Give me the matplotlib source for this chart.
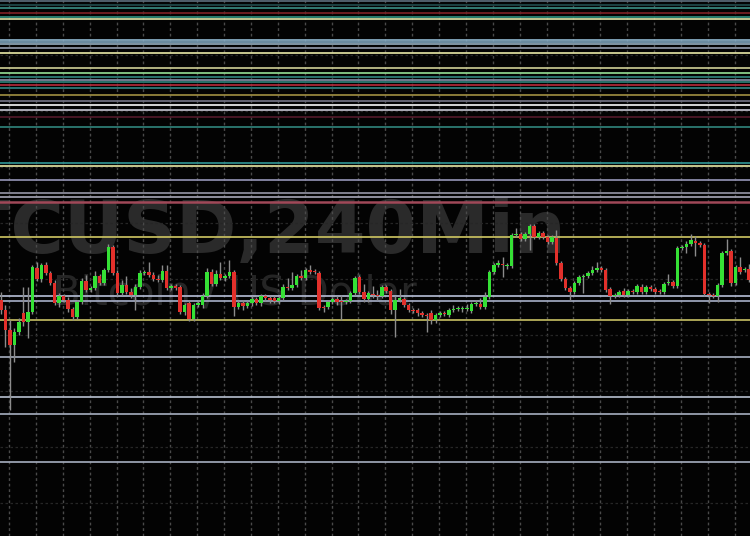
import matplotlib
matplotlib.use("Agg")
import matplotlib.pyplot as plt
import numpy as np

# 4h candles, prices in chart units
opens = [236, 226, 206, 191, 204, 223, 214, 224, 268, 257, 271, 263, 253, 233, 240, 236, 227, 219, 234, 255,
         246, 248, 260, 253, 266, 289, 263, 243, 251, 244, 241, 249, 263, 264, 261, 257, 256, 265, 248, 250,
         249, 224, 233, 217, 231, 231, 240, 264, 252, 262, 258, 260, 264, 229, 233, 230,
         233, 237, 233, 240, 238, 238, 235, 238, 249, 248, 251, 260, 258, 266, 265, 263, 229, 229, 234, 237,
         235, 234, 235, 243, 259, 244, 237, 242, 241, 240, 249, 245, 226, 236, 237, 231, 226, 226, 223, 221,
         223, 216, 221, 223, 221, 226, 227, 227, 227, 225, 232, 232, 229, 239, 264, 271,
         272, 270, 270, 301, 302, 297, 302, 310, 299, 303, 299, 294, 298, 273, 257, 248, 244, 253, 259, 260,
         263, 266, 268, 266, 247, 240, 241, 245, 241, 245, 244, 249, 244, 249, 247, 245, 244, 253, 254, 250,
         288, 289, 292, 295, 293, 291, 242, 241, 240, 251, 283, 285, 253, 269, 266, 267]
closes = [226, 206, 191, 204, 214, 214, 224, 269, 257, 271, 263, 253, 233, 240, 236, 227, 219, 234, 255, 246,
          248, 260, 253, 266, 289, 263, 243, 251, 244, 241, 249, 263, 264, 261, 257, 256, 265, 248, 250, 248,
          224, 231, 217, 231, 233, 240, 264, 252, 262, 258, 260, 264, 229, 233, 230, 233,
          237, 233, 240, 238, 236, 235, 238, 249, 248, 251, 260, 258, 266, 264, 264, 228, 228, 234, 237, 234,
          234, 235, 243, 258, 244, 237, 243, 241, 240, 249, 245, 226, 236, 238, 231, 226, 225, 223, 221, 220,
          216, 221, 223, 222, 226, 227, 228, 228, 228, 232, 233, 229, 239, 264, 271, 273,
          271, 271, 301, 302, 297, 302, 310, 299, 303, 299, 294, 299, 273, 257, 248, 244, 253, 259, 260, 263,
          266, 268, 266, 246, 240, 241, 244, 241, 245, 244, 250, 244, 249, 247, 244, 244, 252, 254, 250, 288,
          289, 292, 296, 293, 291, 242, 241, 240, 251, 283, 285, 253, 269, 264, 267, 256]
highs = [244, 231, 216, 208, 218, 249, 249, 271, 274, 273, 274, 265, 256, 243, 242, 239, 229, 236, 258, 261,
         250, 265, 262, 268, 292, 291, 266, 256, 260, 248, 252, 266, 266, 274, 264, 261, 271, 271, 252, 252,
         251, 233, 236, 233, 236, 243, 268, 267, 266, 274, 262, 276, 266, 236, 236, 235,
         240, 239, 242, 242, 240, 240, 240, 252, 258, 264, 262, 266, 268, 271, 267, 265, 231, 236, 239, 240,
         241, 237, 245, 260, 261, 252, 245, 250, 246, 251, 251, 247, 240, 247, 239, 233, 228, 228, 225, 223,
         226, 223, 225, 225, 228, 231, 230, 230, 232, 234, 236, 238, 244, 266, 273, 276,
         279, 273, 303, 308, 304, 304, 312, 312, 305, 305, 301, 301, 306, 275, 259, 250, 255, 261, 262, 265,
         270, 274, 270, 268, 249, 243, 246, 248, 247, 247, 252, 252, 251, 251, 249, 247, 254, 262, 256, 290,
         291, 295, 302, 300, 295, 293, 244, 243, 253, 285, 297, 287, 271, 279, 269, 272]
lows = [222, 189, 126, 174, 201, 210, 198, 222, 255, 254, 261, 251, 231, 229, 234, 224, 216, 217, 232, 244,
        244, 246, 251, 251, 264, 261, 240, 241, 242, 238, 226, 247, 261, 259, 255, 254, 254, 246, 246, 246,
        222, 221, 215, 215, 229, 228, 238, 250, 250, 256, 255, 258, 220, 227, 226, 228,
        230, 231, 230, 235, 233, 233, 232, 236, 246, 246, 249, 256, 256, 262, 262, 226, 224, 227, 232, 231,
        216, 232, 233, 241, 242, 234, 234, 238, 236, 238, 243, 222, 199, 234, 229, 224, 223, 220, 219, 204,
        212, 213, 219, 220, 219, 224, 225, 224, 225, 223, 230, 227, 227, 237, 262, 269,
        259, 267, 268, 299, 295, 295, 286, 297, 297, 297, 292, 292, 271, 255, 246, 236, 242, 251, 243, 258,
        261, 264, 264, 244, 232, 238, 239, 239, 239, 242, 242, 242, 242, 245, 242, 242, 242, 251, 248, 248,
        286, 283, 290, 280, 289, 240, 233, 238, 234, 249, 281, 250, 251, 262, 264, 254]

# horizontal support / resistance levels drawn on the chart
level_prices = [535, 531, 528, 523, 519, 517, 496, 494, 492, 488, 483, 468, 463, 459, 456, 454, 451, 448,
                441, 435, 431, 426, 419, 409, 373, 370, 356, 343, 339, 334, 299, 240, 235, 216, 179, 139,
                122, 74]
level_colors = ['#5a6b78', '#1f4a4a', '#3a8a80', '#7a1f24', '#2e8c7a', '#d8dca0', '#8ab0c8', '#7aa0b8',
                '#90a8b8', '#9098a8', '#e0e0a0', '#c8c890', '#90d890', '#2e8078', '#8088a0', '#2e8078',
                '#b02a3a', '#2e8080', '#9a8a40', '#707080', '#f0f0f0', '#c0c0cc', '#501828', '#2e8078',
                '#2e9090', '#e0e0a0', '#9090b0', '#9090a0', '#a0a0b0', '#a04858', '#c8c060', '#b0b8d0',
                '#a0a8c0', '#c0b860', '#a0a8b8', '#b0b8c8', '#a0a8b8', '#a0a8b8']

title = "BTCUSD,240Min"
subtitle = "Bitcoin / US Dollar"

opens = np.array(opens)
closes = np.array(closes)
x = np.arange(len(opens))
up = closes >= opens

fig = plt.figure(figsize=(7.5, 5.36), dpi=100, facecolor='black')
ax = fig.add_axes([0, 0, 1, 1])
ax.set_facecolor('#030303')

# watermark (the left part is cut off in the original too)
ax.text(-0.127, 0.528, title, transform=ax.transAxes, ha='left', va='baseline',
        fontsize=52.5, fontweight='bold', color='#2a2a2a', zorder=0)
ax.text(0.07, 0.431, subtitle, transform=ax.transAxes, ha='left', va='baseline',
        fontsize=29, color='#252525', zorder=0)

# levels
for p, c in zip(level_prices, level_colors):
    lw = 1.8 if p == 334 else 1.25
    ax.axhline(p, color=c, linewidth=lw, zorder=2)

# candles
ax.vlines(x, lows, highs, color='#8c8c8c', linewidth=1.0, zorder=3)
body_h = np.maximum(np.abs(closes - opens), 1.5)
ax.bar(x[up], body_h[up], bottom=np.minimum(opens, closes)[up], width=0.78,
       color='#35e035', zorder=4)
ax.bar(x[~up], body_h[~up], bottom=np.minimum(opens, closes)[~up], width=0.78,
       color='#e2302b', zorder=4)

ax.set_xlim(-0.22, 167.2)
ax.set_ylim(0, 536)
ax.set_xticks(np.arange(1.8, 168, 6))
ax.set_yticks([33, 89, 145, 201, 257, 313, 369, 425, 481])
ax.grid(axis='x', color='#4a4a4a', linestyle=(0, (2, 2)), linewidth=1.0, zorder=1)
ax.grid(axis='y', color='#262626', linestyle=(0, (2, 2)), linewidth=0.9, zorder=1)
ax.set_axisbelow(True)
ax.tick_params(length=0, labelbottom=False, labelleft=False)
for s in ax.spines.values():
    s.set_visible(False)

fig.savefig('out.png', dpi=100, facecolor='black')
